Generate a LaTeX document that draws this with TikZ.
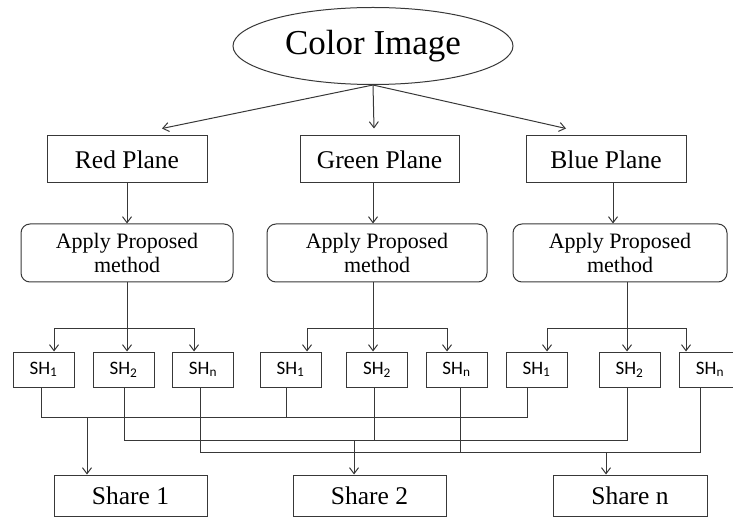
\documentclass[tikz,border=0pt]{standalone}
\usepackage{fontspec}
\setmainfont{Liberation Serif}
\newfontfamily\shfont{Carlito}
\usetikzlibrary{shapes.geometric,arrows.meta}
\newcommand{\shsub}[1]{SH\textsubscript{#1}}

\begin{document}
\begin{tikzpicture}[x=1pt,y=-1pt,
  line width=1pt,
  color=black!78,
  arr/.style={-{Straight Barb[length=6pt,width=9pt]}},
  plane/.style={draw,text=black,rectangle,minimum width=160pt,minimum height=47pt,inner sep=0pt,
    font=\fontsize{25.5}{28}\selectfont},
  apply/.style={draw,text=black,rectangle,rounded corners=9pt,minimum height=58pt,inner sep=0pt,
    align=center,font=\fontsize{22}{24}\selectfont},
  shbox/.style={draw,text=black,rectangle,minimum width=61pt,minimum height=35pt,inner sep=0pt,
    font=\shfont\fontsize{19}{21}\selectfont},
  sharebox/.style={draw,text=black,rectangle,minimum width=153pt,minimum height=41pt,inner sep=0pt,
    font=\fontsize{25.5}{28}\selectfont}]
\useasboundingbox (0,0) rectangle (733,518);

% source image
\node[ellipse,draw,text=black,minimum width=280pt,minimum height=77pt,inner sep=0pt,
  font=\fontsize{35}{38}\selectfont] (img) at (373,46) {Color Image};

% colour planes
\node[plane] (red) at (127,159.5) {Red Plane};
\node[plane,minimum width=159pt] (green) at (379.5,159.5) {Green Plane};
\node[plane] (blue) at (606,159.5) {Blue Plane};

% processing step per plane
\node[apply,minimum width=212pt] (ap1) at (127,253) {Apply Proposed\\method};
\node[apply,minimum width=220pt] (ap2) at (377,253) {Apply Proposed\\method};
\node[apply,minimum width=214pt] (ap3) at (620,253) {Apply Proposed\\method};

% shares of each plane
\node[shbox] (sh11) at (43.5,369.5) {\shsub{1}};
\node[shbox] (sh12) at (123.5,369.5) {\shsub{2}};
\node[shbox] (sh1n) at (203,369.5) {\shsub{n}};
\node[shbox] (sh21) at (290.5,369.5) {\shsub{1}};
\node[shbox] (sh22) at (377,369.5) {\shsub{2}};
\node[shbox] (sh2n) at (456.5,369.5) {\shsub{n}};
\node[shbox] (sh31) at (536.5,369.5) {\shsub{1}};
\node[shbox] (sh32) at (629.5,369.5) {\shsub{2}};
\node[shbox] (sh3n) at (710,369.5) {\shsub{n}};

% combined shares
\node[sharebox] (s1) at (130.5,495.5) {Share 1};
\node[sharebox] (s2) at (369.5,495.5) {Share 2};
\node[sharebox,minimum width=154pt] (sn) at (630,495.5) {Share n};

% image to planes
\draw[arr] (img.south) -- ([xshift=35pt,yshift=7pt]red.north);
\draw[arr] (img.south) -- ([xshift=-5.5pt,yshift=7pt]green.north);
\draw[arr] (img.south) -- ([xshift=-40pt,yshift=7pt]blue.north);

% planes to processing
\coordinate (gx) at (373,0);
\coordinate (bx) at (613,0);
\draw[arr] (red.south) -- (ap1.north);
\draw[arr] (green.south -| gx) -- (ap2.north -| gx);
\draw[arr] (blue.south -| bx) -- (ap3.north -| bx);

% fan-out to the shares
\coordinate (f1) at (54,329);  \coordinate (f1c) at (127,329); \coordinate (f1r) at (194,329);
\coordinate (f2) at (307,329); \coordinate (f2c) at (373,329); \coordinate (f2r) at (447,329);
\coordinate (f3) at (547,329); \coordinate (f3c) at (627,329); \coordinate (f3r) at (686,329);
\draw (ap1.south -| f1c) -- (f1c);
\draw (ap2.south -| f2c) -- (f2c);
\draw (ap3.south -| f3c) -- (f3c);
\draw[arr] (f1c) -- (f1) -- (sh11.north -| f1);
\draw[arr] (f1c) -- (f1r) -- (sh1n.north -| f1r);
\draw[arr] (f1c) -- (sh12.north -| f1c);
\draw[arr] (f2c) -- (f2) -- (sh21.north -| f2);
\draw[arr] (f2c) -- (f2r) -- (sh2n.north -| f2r);
\draw[arr] (f2c) -- (sh22.north -| f2c);
\draw[arr] (f3c) -- (f3) -- (sh31.north -| f3);
\draw[arr] (f3c) -- (f3r) -- (sh3n.north -| f3r);
\draw[arr] (f3c) -- (sh32.north -| f3c);

% bus collecting SH1
\coordinate (a1) at (41,417); \coordinate (a2) at (286,417); \coordinate (a3) at (527,417);
\coordinate (a0) at (87,417);
\draw (sh11.south -| a1) -- (a1) -- (a3) -- (sh31.south -| a3);
\draw (sh21.south -| a2) -- (a2);
\draw[arr] (a0) -- (s1.north -| a0);

% bus collecting SH2
\coordinate (c1) at (124,440); \coordinate (c2) at (374,440); \coordinate (c3) at (627,440);
\coordinate (c0) at (354,440);
\draw (sh12.south -| c1) -- (c1) -- (c3) -- (sh32.south -| c3);
\draw (sh22.south -| c2) -- (c2);
\draw[arr] (c0) -- (s2.north -| c0);

% bus collecting SHn
\coordinate (d1) at (200,452); \coordinate (d2) at (460,452); \coordinate (d3) at (700,452);
\coordinate (d0) at (606,452);
\draw (sh1n.south -| d1) -- (d1) -- (d3) -- (sh3n.south -| d3);
\draw (sh2n.south -| d2) -- (d2);
\draw[arr] (d0) -- (sn.north -| d0);
\end{tikzpicture}
\end{document}
